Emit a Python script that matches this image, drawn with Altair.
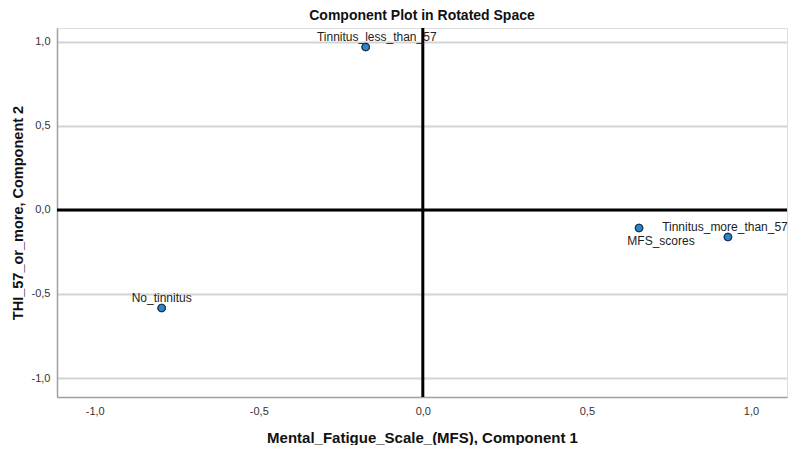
import altair as alt
import pandas as pd

labels = ["Tinnitus_less_than_57", "Tinnitus_more_than_57", "MFS_scores", "No_tinnitus"]
comp1 = [-0.174, 0.930, 0.659, -0.796]
comp2 = [0.970, -0.161, -0.107, -0.583]
ticks = [-1.0, -0.5, 0.0, 0.5, 1.0]

df = pd.DataFrame({"label": labels, "c1": comp1, "c2": comp2})

FONT = "Liberation Sans"
lab_expr = "replace(replace(format(datum.value, '.1f'), '.', ','), '\u2212', '-')"

xs = alt.Scale(domain=[-1.115, 1.11], nice=False, zero=False)
ys = alt.Scale(domain=[-1.113, 1.083], nice=False, zero=False)

xenc = alt.X("c1:Q", scale=xs, title="Mental_Fatigue_Scale_(MFS), Component 1",
             axis=alt.Axis(values=ticks, labelExpr=lab_expr, grid=False, ticks=False,
                           domainColor="#a0a0a0", domainWidth=1.5, labelPadding=8,
                           labelFontSize=11, labelColor="#333333", labelFont=FONT,
                           titleFont=FONT, titleFontSize=15, titleFontWeight="bold",
                           titleColor="#111111", titlePadding=14))
yenc = alt.Y("c2:Q", scale=ys, title="THI_57_or_more, Component 2",
             axis=alt.Axis(values=ticks, labelExpr=lab_expr, grid=True, gridColor="#d4d4d4",
                           gridWidth=2, ticks=False, domainColor="#a0a0a0", domainWidth=1.5,
                           labelPadding=7, labelFontSize=11, labelColor="#333333",
                           labelFont=FONT, titleFont=FONT, titleFontSize=14.5,
                           titleFontWeight="bold", titleColor="#111111", titlePadding=6))

base = alt.Chart(df)

zero_df = pd.DataFrame({"z": [0.0]})
vline = alt.Chart(zero_df).mark_rule(color="black", strokeWidth=3).encode(x=alt.X("z:Q", scale=xs))
hline = alt.Chart(zero_df).mark_rule(color="black", strokeWidth=3).encode(y=alt.Y("z:Q", scale=ys))

pts = base.mark_point(filled=True, size=55, color="#2b86cc", stroke="#1d3550",
                      strokeWidth=1.2, opacity=1, shape="circle").encode(x=xenc, y=yenc)

label_style = {
    "Tinnitus_less_than_57": (11, -10),
    "Tinnitus_more_than_57": (-3, -10),
    "MFS_scores": (22, 13),
    "No_tinnitus": (0, -10),
}
texts = []
for name, (dx, dy) in label_style.items():
    texts.append(
        base.transform_filter(alt.datum.label == name)
        .mark_text(font=FONT, fontSize=12, color="#222222", dx=dx, dy=dy, baseline="middle")
        .encode(x=alt.X("c1:Q", scale=xs), y=alt.Y("c2:Q", scale=ys), text="label:N")
    )

chart = alt.layer(pts, vline, hline, *texts, pts).properties(
    width=730, height=369,
    title=alt.TitleParams("Component Plot in Rotated Space", font=FONT, fontSize=14,
                          fontWeight="bold", color="#111111", offset=4),
    autosize=alt.AutoSizeParams(type="none"),
    padding={"left": 49, "top": 20, "right": 2, "bottom": 48},
).configure_view(stroke=None).configure(background="white")

chart.save("out.html", embed_options={"renderer": "svg", "actions": False})
